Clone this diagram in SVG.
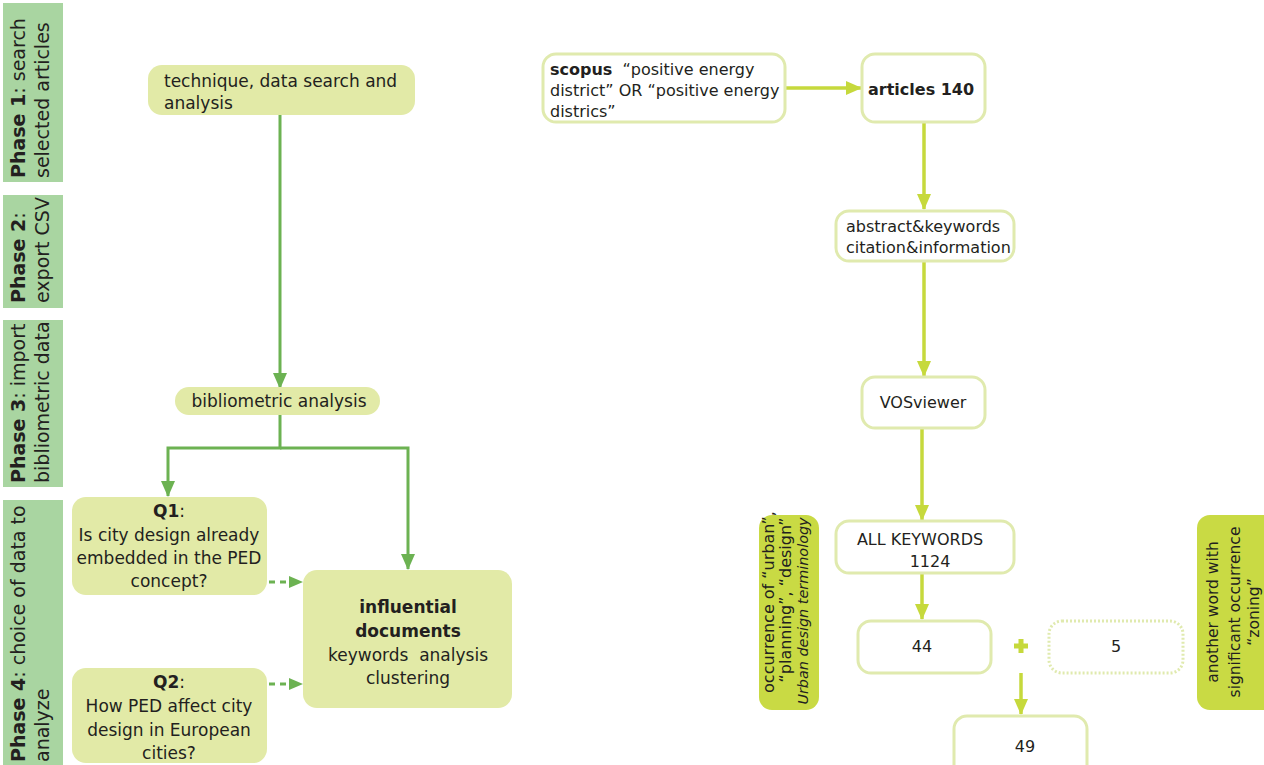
<svg xmlns="http://www.w3.org/2000/svg" width="1264" height="765" viewBox="0 0 1264 765">
  <defs>
    <style>
      text { font-family: "DejaVu Sans", Verdana, sans-serif; fill: #231f20; }
      .phase { fill: #a9d5a1; }
      .phase-text { font-size: 19px; }
      .lnode { fill: #e2eaa7; }
      .ltxt { font-size: 17px; }
      .rnode { fill: #ffffff; stroke: #e0eaae; stroke-width: 3; }
      .rtxt { font-size: 16px; }
      .lime { fill: #c9da44; }
      .lconn { fill: none; stroke: #6cb252; stroke-width: 3; }
      .ldash { fill: none; stroke: #6cb252; stroke-width: 3; stroke-dasharray: 6 5; }
      .rconn { fill: none; stroke: #c6d93c; stroke-width: 3.5; }
      .c { text-anchor: middle; }
      .b { font-weight: bold; }
    </style>
    <marker id="ah-green" viewBox="0 0 16 14" refX="15" refY="7" markerWidth="16" markerHeight="14" markerUnits="userSpaceOnUse" orient="auto">
      <path d="M0,0 L16,7 L0,14 z" fill="#6cb252"/>
    </marker>
    <marker id="ah-green-s" viewBox="0 0 14 12" refX="13" refY="6" markerWidth="14" markerHeight="12" markerUnits="userSpaceOnUse" orient="auto">
      <path d="M0,0 L14,6 L0,12 z" fill="#6cb252"/>
    </marker>
    <marker id="ah-lime" viewBox="0 0 16 14" refX="15" refY="7" markerWidth="16" markerHeight="14" markerUnits="userSpaceOnUse" orient="auto">
      <path d="M0,0 L16,7 L0,14 z" fill="#c6d93c"/>
    </marker>
  </defs>

  <!-- phase bands on the left -->
  <g id="phase1">
    <rect class="phase" x="3" y="3" width="60" height="179"/>
    <text class="phase-text" transform="translate(25,178) rotate(-90)"><tspan class="b">Phase 1</tspan>: search</text>
    <text class="phase-text" transform="translate(49,178) rotate(-90)">selected articles</text>
  </g>
  <g id="phase2">
    <rect class="phase" x="3" y="195" width="60" height="113"/>
    <text class="phase-text" transform="translate(25,303) rotate(-90)"><tspan class="b">Phase 2</tspan>:</text>
    <text class="phase-text" transform="translate(49,303) rotate(-90)">export CSV</text>
  </g>
  <g id="phase3">
    <rect class="phase" x="3" y="320" width="60" height="167"/>
    <text class="phase-text" transform="translate(25,483) rotate(-90)"><tspan class="b">Phase 3</tspan>: import</text>
    <text class="phase-text" transform="translate(49,483) rotate(-90)">bibliometric data</text>
  </g>
  <g id="phase4">
    <rect class="phase" x="3" y="500" width="60" height="268"/>
    <text class="phase-text" transform="translate(25,762) rotate(-90)"><tspan class="b">Phase 4</tspan>: choice of data to</text>
    <text class="phase-text" transform="translate(49,762) rotate(-90)">analyze</text>
  </g>

  <!-- connectors -->
  <g id="connectors">
    <path class="lconn" d="M280 115 V388" marker-end="url(#ah-green)"/>
    <path class="lconn" d="M280 415 V448 H168 V496" marker-end="url(#ah-green)"/>
    <path class="lconn" d="M280 448 H408 V569" marker-end="url(#ah-green)"/>
    <path class="ldash" d="M269 582 H302" marker-end="url(#ah-green-s)"/>
    <path class="ldash" d="M269 684 H302" marker-end="url(#ah-green-s)"/>

    <path class="rconn" d="M786 88 H861" marker-end="url(#ah-lime)"/>
    <path class="rconn" d="M924 123 V209" marker-end="url(#ah-lime)"/>
    <path class="rconn" d="M924 262 V376" marker-end="url(#ah-lime)"/>
    <path class="rconn" d="M922 429 V520" marker-end="url(#ah-lime)"/>
    <path class="rconn" d="M922 573 V619" marker-end="url(#ah-lime)"/>
    <path class="rconn" d="M1021 673 V714" marker-end="url(#ah-lime)"/>
  </g>

  <!-- left workflow -->
  <g id="technique">
    <rect class="lnode" x="148" y="65" width="267" height="50" rx="14"/>
    <text class="ltxt" x="164" y="87">technique, data search and</text>
    <text class="ltxt" x="164" y="109">analysis</text>
  </g>
  <g id="bibliometric">
    <rect class="lnode" x="175" y="387" width="205" height="28" rx="14"/>
    <text class="ltxt c" x="279" y="407">bibliometric analysis</text>
  </g>
  <g id="q1">
    <rect class="lnode" x="72" y="497" width="195" height="98" rx="14"/>
    <text class="ltxt c" x="169" y="517"><tspan class="b">Q1</tspan>:</text>
    <text class="ltxt c" x="169" y="541">Is city design already</text>
    <text class="ltxt c" x="169" y="564">embedded in the PED</text>
    <text class="ltxt c" x="169" y="587">concept?</text>
  </g>
  <g id="q2">
    <rect class="lnode" x="72" y="668" width="195" height="95" rx="14"/>
    <text class="ltxt c" x="169" y="688"><tspan class="b">Q2</tspan>:</text>
    <text class="ltxt c" x="169" y="712">How PED affect city</text>
    <text class="ltxt c" x="169" y="736">design in European</text>
    <text class="ltxt c" x="169" y="759">cities?</text>
  </g>
  <g id="influential">
    <rect class="lnode" x="303" y="570" width="209" height="138" rx="14"/>
    <text class="ltxt c b" x="408" y="613">influential</text>
    <text class="ltxt c b" x="408" y="637">documents</text>
    <text class="ltxt c" x="408" y="661" xml:space="preserve">keywords  analysis</text>
    <text class="ltxt c" x="408" y="684">clustering</text>
  </g>

  <!-- right workflow -->
  <g id="scopus">
    <rect class="rnode" x="543" y="54" width="242" height="68" rx="13"/>
    <text class="rtxt" x="550" y="75" xml:space="preserve"><tspan class="b">scopus</tspan>  “positive energy</text>
    <text class="rtxt" x="550" y="96">district” OR “positive energy</text>
    <text class="rtxt" x="550" y="117">districs”</text>
  </g>
  <g id="articles">
    <rect class="rnode" x="862" y="54" width="123" height="68" rx="13"/>
    <text class="rtxt b" x="868" y="95">articles 140</text>
  </g>
  <g id="abstract">
    <rect class="rnode" x="836" y="211" width="178" height="50" rx="13"/>
    <text class="rtxt" x="846" y="232" font-size="15.5">abstract&amp;keywords</text>
    <text class="rtxt" x="846" y="253" font-size="15.5">citation&amp;information</text>
  </g>
  <g id="vosviewer">
    <rect class="rnode" x="862" y="377" width="123" height="51" rx="13"/>
    <text class="rtxt c" x="923" y="408">VOSviewer</text>
  </g>
  <g id="allkeywords">
    <rect class="rnode" x="836" y="521" width="178" height="52" rx="13"/>
    <text class="rtxt c" x="920" y="545">ALL KEYWORDS</text>
    <text class="rtxt c" x="930" y="567">1124</text>
  </g>
  <g id="k44">
    <rect class="rnode" x="858" y="621" width="133" height="52" rx="13"/>
    <text class="rtxt c" x="922" y="652">44</text>
  </g>
  <g id="plus">
    <path d="M1021 639 V653 M1014 646 H1028" stroke="#c6d93c" stroke-width="5" fill="none"/>
  </g>
  <g id="k5">
    <rect x="1049" y="621" width="134" height="52" rx="13" fill="#fff" stroke="#e0eaae" stroke-width="3" stroke-dasharray="2 2"/>
    <text class="rtxt c" x="1116" y="652">5</text>
  </g>
  <g id="k49">
    <rect class="rnode" x="954" y="716" width="133" height="62" rx="13"/>
    <text class="rtxt c" x="1025" y="752">49</text>
  </g>

  <!-- side notes -->
  <g id="note-urban">
    <rect class="lime" x="759" y="515" width="60" height="195" rx="13"/>
    <text class="c" font-size="16" transform="translate(774,602) rotate(-90)">occurrence of “urban”,</text>
    <text class="c" font-size="16" transform="translate(791,600) rotate(-90)">“planning”, “design”</text>
    <text class="c" font-size="14.4" font-style="italic" transform="translate(808,611) rotate(-90)">Urban design terminology</text>
  </g>
  <g id="note-zoning">
    <rect class="lime" x="1197" y="515" width="80" height="195" rx="13"/>
    <text class="c" font-size="15.5" transform="translate(1218,612) rotate(-90)">another word with</text>
    <text class="c" font-size="15.5" transform="translate(1240,612) rotate(-90)">significant occurrence</text>
    <text class="c" font-size="15.5" transform="translate(1259,612) rotate(-90)">“zoning”</text>
  </g>
</svg>
